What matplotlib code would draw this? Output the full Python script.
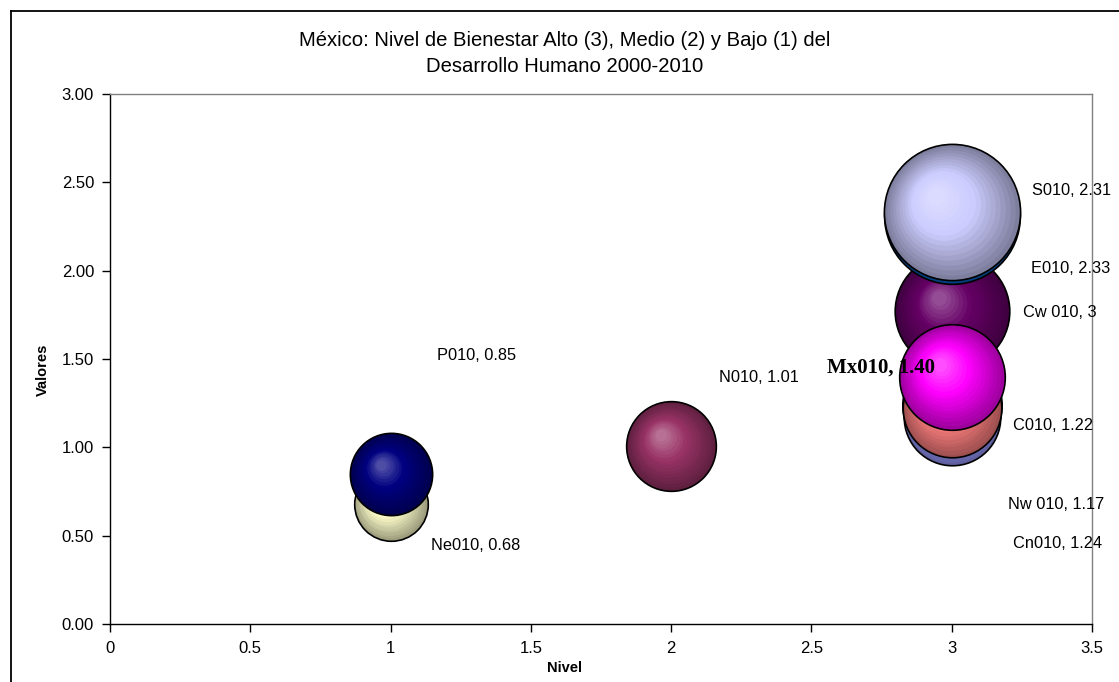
import numpy as np
import matplotlib
matplotlib.use("Agg")
import matplotlib.pyplot as plt
import matplotlib.transforms as mtransforms
from matplotlib.colors import to_rgb
from matplotlib.lines import Line2D

# --- data -----------------------------------------------------------------
series = ["Nw010", "N010", "Ne010", "Cn010", "Cw010", "C010", "S010", "E010", "P010", "Mx010"]
nivel = [3, 2, 1, 3, 3, 3, 3, 3, 1, 3]
valores = [1.17, 1.01, 0.68, 1.24, 1.77, 1.22, 2.31, 2.33, 0.85, 1.40]
tamano = [1.17, 1.01, 0.68, 1.24, 1.65, 1.22, 2.31, 2.33, 0.85, 1.40]
etiquetas = ["Nw 010, 1.17", "N010, 1.01", "Ne010, 0.68", "Cn010, 1.24", "Cw 010, 3",
             "C010, 1.22", "S010, 2.31", "E010, 2.33", "P010, 0.85", "Mx010, 1.40"]

# --- styling --------------------------------------------------------------
colores = ["#9999FF", "#993366", "#FFFFCC", "#CCFFFF", "#660066",
           "#FF8080", "#0066CC", "#CCCCFF", "#000080", "#FF00FF"]
# label anchors (left edge, vertical centre) in data units
etiq_x = [3.200, 2.170, 1.144, 3.218, 3.254, 3.218, 3.286, 3.282, 1.165, 2.555]
etiq_y = [0.679, 1.398, 0.447, 0.458, 1.766, 1.126, 2.456, 2.015, 1.517, 1.449]

plt.rcParams["font.family"] = ["Liberation Sans", "DejaVu Sans"]

W, H, DPI = 1119, 682, 100
fig = plt.figure(figsize=(W / DPI, H / DPI), dpi=DPI)
fig.patch.set_facecolor("white")

ax = fig.add_axes([110 / W, 1 - 624 / H, (1092 - 110) / W, (624 - 94) / H])
ax.set_xlim(0, 3.5)
ax.set_ylim(0, 3.0)
ax.set_xticks(np.arange(0, 3.51, 0.5))
ax.set_xticklabels(["0", "0.5", "1", "1.5", "2", "2.5", "3", "3.5"])
ax.set_yticks(np.arange(0, 3.01, 0.5))
ax.set_yticklabels([f"{v:.2f}" for v in np.arange(0, 3.01, 0.5)])
ax.tick_params(direction="out", length=5.5, width=1, labelsize=12, color="black")
ax.tick_params(axis="y", pad=6)
ax.tick_params(axis="x", pad=6.5)
for s in ("left", "bottom"):
    ax.spines[s].set_color("black")
    ax.spines[s].set_linewidth(1.0)
for s in ("top", "right"):
    ax.spines[s].set_color("#808080")
    ax.spines[s].set_linewidth(1.0)

# bubble scale: largest bubble spans ~1/4 of the plot height
ax_h_px = ax.get_position().height * H
r_max_px = 0.257 * ax_h_px / 2
s_max = max(tamano)


def shade(base, t):
    """Colour of a gradient band: t=0 rim (dark), t=1 highlight (light)."""
    b = np.array(to_rgb(base))
    dark = b * 0.62
    light = b + 0.35 * (1 - b)
    if t < 0.55:
        return dark + (b - dark) * (t / 0.55)
    return b + (light - b) * ((t - 0.55) / 0.45)


n_bands = 16
for i, (x, y, sz, c) in enumerate(zip(nivel, valores, tamano, colores)):
    r_px = r_max_px * np.sqrt(sz / s_max)
    z = 10 + i * 2
    # outer disc with black rim
    d_pt = 2 * r_px * 72 / DPI
    ax.plot([x], [y], marker="o", markersize=d_pt, markerfacecolor=shade(c, 0.0),
            markeredgecolor="black", markeredgewidth=1.2, linestyle="none", zorder=z)
    for k in range(1, n_bands):
        t = k / n_bands
        rk = r_px * (1 - t * 0.93)
        off = mtransforms.offset_copy(ax.transData, fig=fig,
                                      x=-0.24 * r_px * t, y=0.24 * r_px * t, units="dots")
        ax.plot([x], [y], marker="o", markersize=2 * rk * 72 / DPI,
                markerfacecolor=shade(c, t), markeredgewidth=0, linestyle="none",
                transform=off, zorder=z + k / n_bands)

# data labels
for i, (lbl, lx, ly) in enumerate(zip(etiquetas, etiq_x, etiq_y)):
    if series[i] == "Mx010":
        ax.text(lx, ly, lbl, ha="left", va="center", fontsize=15, fontweight="bold",
                family=["Liberation Serif", "DejaVu Serif"], zorder=100)
    else:
        ax.text(lx, ly, lbl, ha="left", va="center", fontsize=11.8, zorder=100)

# titles
fig.text(565 / W, 1 - 41 / H, "México: Nivel de Bienestar Alto (3), Medio (2) y Bajo (1) del",
         ha="center", va="center", fontsize=14.6)
fig.text(565 / W, 1 - 67 / H, "Desarrollo Humano 2000-2010",
         ha="center", va="center", fontsize=14.6)
fig.text(565 / W, 1 - 668 / H, "Nivel", ha="center", va="center", fontsize=10.5,
         fontweight="bold")
fig.text(43 / W, 1 - 370 / H, "Valores", ha="center", va="center", fontsize=10.5,
         fontweight="bold", rotation=90)

# chart frame
fig.add_artist(Line2D([10.5 / W, 1.0], [1 - 10.5 / H, 1 - 10.5 / H], color="black",
                      linewidth=1.3, transform=fig.transFigure))
fig.add_artist(Line2D([10.5 / W, 10.5 / W], [1 - 10.5 / H, 0.0], color="black",
                      linewidth=1.3, transform=fig.transFigure))

fig.savefig("out.png", dpi=DPI)
